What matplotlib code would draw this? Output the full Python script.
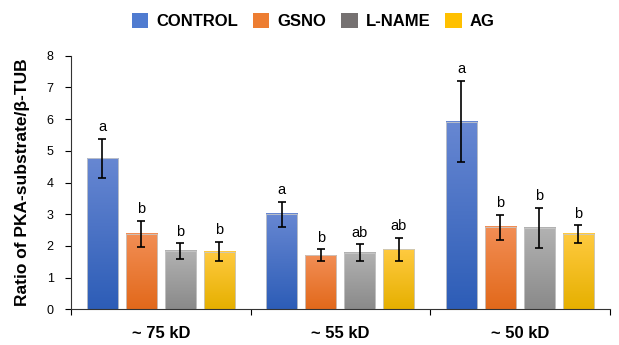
import numpy as np
import matplotlib
matplotlib.use("Agg")
import matplotlib.pyplot as plt
from matplotlib.colors import LinearSegmentedColormap
from matplotlib.patches import Patch

plt.rcParams["font.family"] = ["Liberation Sans", "DejaVu Sans"]

# data
groups = ["~ 75 kD", "~ 55 kD", "~ 50 kD"]
series = ["CONTROL", "GSNO", "L-NAME", "AG"]
control = [4.76, 3.00, 5.92]
gsno = [2.38, 1.70, 2.59]
lname = [1.84, 1.78, 2.56]
ag = [1.82, 1.89, 2.37]
control_err = [0.61, 0.39, 1.28]
gsno_err = [0.42, 0.19, 0.40]
lname_err = [0.24, 0.27, 0.64]
ag_err = [0.31, 0.36, 0.28]
control_sig = ["a", "a", "a"]
gsno_sig = ["b", "b", "b"]
lname_sig = ["b", "ab", "b"]
ag_sig = ["b", "ab", "b"]

values = [control, gsno, lname, ag]
errors = [control_err, gsno_err, lname_err, ag_err]
letters = [control_sig, gsno_sig, lname_sig, ag_sig]

# (top, bottom) gradient colours per series, plus legend swatch colour
grad = [("#6787d2", "#2d5db7"),
        ("#f28e55", "#e2691b"),
        ("#b2b2b2", "#8a8a8a"),
        ("#ffca40", "#e6b000")]
legend_cols = ["#4f7bd0", "#ed7d31", "#757171", "#ffc000"]

fig = plt.figure(figsize=(6.19, 3.45), dpi=100)
ax = fig.add_axes([0.1147, 0.1035, 0.870, 0.735])

width = 0.173
pitch = 0.217
x = np.arange(len(groups)) + 0.5

for i, (vals, errs, sig) in enumerate(zip(values, errors, letters)):
    cmap = LinearSegmentedColormap.from_list(series[i], [grad[i][1], grad[i][0]])
    pos = x + (i - 1.5) * pitch
    for xp, v, e, s in zip(pos, vals, errs, sig):
        g = np.linspace(0, 1, 100).reshape(-1, 1)
        ax.imshow(g, cmap=cmap, origin="lower", aspect="auto",
                  extent=[xp - width / 2, xp + width / 2, 0, v], zorder=2)
        ax.bar(xp, v, width, facecolor="none", edgecolor="#c8c8c8",
               linewidth=0.6, zorder=3)
        ax.errorbar(xp, v, yerr=e, fmt="none", ecolor="black",
                    elinewidth=1.2, capsize=3, capthick=1.2, zorder=4)
        ax.text(xp, v + e + 0.15, s, ha="center", va="bottom",
                fontsize=10.5, zorder=5)

ax.set_xlim(0, 3)
ax.set_ylim(0, 8)
ax.set_yticks(range(0, 9))
ax.tick_params(axis="y", labelsize=9, length=4.5, width=0.8, pad=8)
ax.set_xticks([0, 1, 2, 3])
ax.set_xticklabels([])
ax.tick_params(axis="x", length=4, width=0.8, direction="out")
for xp, lab in zip(x, groups):
    ax.text(xp, -0.75, lab, ha="center", va="center", fontsize=12,
            fontweight="bold", transform=ax.transData)
ax.spines["top"].set_visible(False)
ax.spines["right"].set_visible(False)
for sp in ("left", "bottom"):
    ax.spines[sp].set_color("#333333")
    ax.spines[sp].set_linewidth(0.8)

fig.text(0.0363, 0.4725, "Ratio of PKA-substrate/β-TUB", rotation=90,
         ha="center", va="center", fontsize=12.5, fontweight="bold")

handles = [Patch(facecolor=c, edgecolor="none") for c in legend_cols]
fig.legend(handles, series, loc="center", bbox_to_anchor=(0.506, 0.94),
           ncol=4, frameon=False, prop={"weight": "bold", "size": 12},
           handlelength=1.0, handleheight=1.0, handletextpad=0.5,
           columnspacing=0.86)

fig.savefig("out.png", dpi=100)
